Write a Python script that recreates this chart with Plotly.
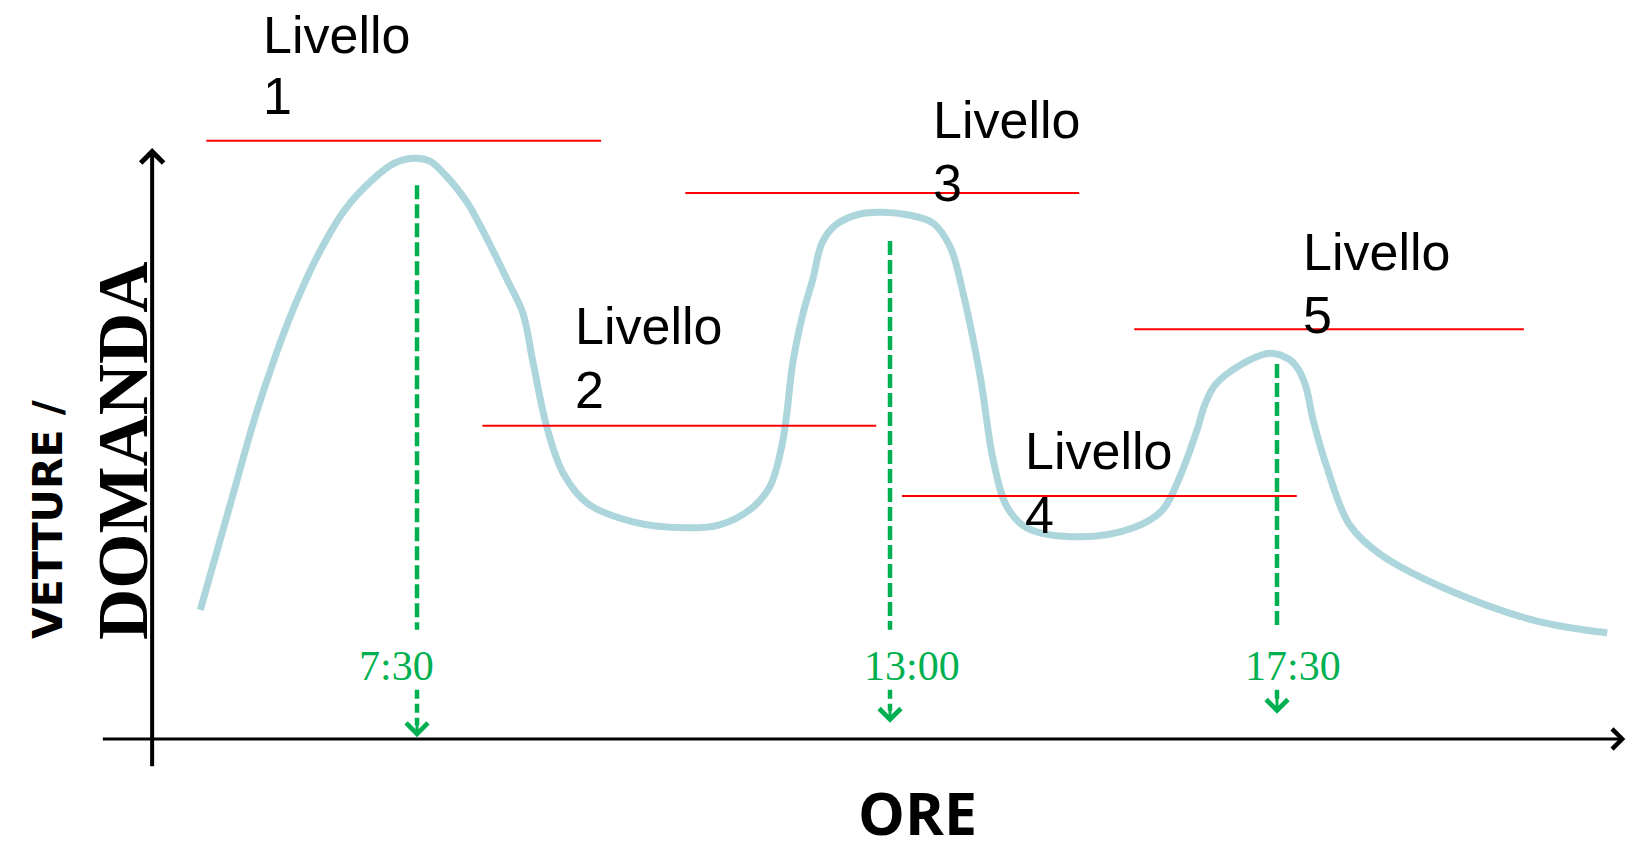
import plotly.graph_objects as go

# ---------------- data ----------------
# demand curve: hour of day vs demand (arbitrary units)
hours = [4.98, 5.33, 5.62, 5.85, 6.08, 6.35, 6.66, 6.98, 7.24, 7.48, 7.65, 7.83,
         8.08, 8.20, 8.38, 8.55, 8.73, 8.85, 9.01, 9.20, 9.48, 10.01, 10.64, 11.02,
         11.37, 11.60, 11.74, 11.80, 11.87, 11.99, 12.10, 12.21, 12.36, 12.65, 12.92,
         13.23, 13.50, 13.70, 13.85, 14.05, 14.20, 14.36, 14.59, 15.21, 15.83, 16.17,
         16.37, 16.57, 16.66, 16.78, 17.07, 17.42, 17.65, 17.73, 17.83, 17.92, 18.08,
         18.34, 18.71, 19.55, 20.51, 21.34]
demand = [21.5, 39.2, 53.8, 63.7, 72.3, 80.7, 88.2, 93.2, 96.0, 96.8, 96.3, 94.0,
          89.5, 86.5, 81.5, 76.5, 71.0, 62.7, 52.0, 44.3, 39.3, 36.2, 35.2, 35.7,
          38.2, 42.0, 48.7, 54.3, 62.7, 71.0, 76.5, 82.7, 85.6, 87.5, 87.8,
          87.3, 86.0, 82.0, 74.3, 60.3, 46.5, 38.7, 35.2, 33.7, 35.2, 38.2,
          43.7, 51.5, 55.7, 59.0, 62.3, 64.3, 63.2, 62.0, 59.0, 53.2, 45.3,
          35.8, 30.7, 24.5, 19.7, 17.7]

# service levels (horizontal red lines)
level_names = ["1", "2", "3", "4", "5"]
level_values = [99.7, 52.2, 91.0, 40.5, 68.3]
level_start = [5.05, 8.26, 10.62, 13.14, 15.84]
level_end = [9.64, 12.84, 15.20, 17.73, 20.37]

# peak times
peak_times = [7.5, 13.0, 17.5]
peak_labels = ["7:30", "13:00", "17:30"]
guide_top = [92.3, 83.0, 62.5]
guide_bottom = 18.2
arrow_tip = [0.3, 2.7, 4.2]

x_title = "ORE"
y_title_1 = "VETTURE /"
y_title_2 = "DOMANDA"

# ---------------- layout constants ----------------
X_RANGE = [2.651, 21.593]
Y_RANGE = [-19.0, 123.17]
AXIS_X0 = 4.42          # position of vertical axis (hours)
X_AXIS_START = 3.83
X_AXIS_END = 21.55
Y_AXIS_BOTTOM = -4.8
Y_AXIS_TOP = 98.5

# label anchor positions (left x, centre y of "Livello", centre y of number)
LABEL_POS = [(5.69, 117.3, 107.2), (9.31, 68.8, 58.2), (13.48, 103.2, 92.7),
             (14.55, 48.0, 37.3), (17.78, 81.2, 70.7)]
TIME_LABEL_Y = 12.2
TIME_LABEL_SHIFT = [-21, 22, 16]

CURVE_COLOR = "#acd6db"
GREEN = "#00b050"
RED = "#ff0000"

fig = go.Figure()

# demand curve
fig.add_trace(go.Scatter(x=hours, y=demand, mode="lines",
                         line=dict(color=CURVE_COLOR, width=7, shape="spline", smoothing=1.0),
                         hoverinfo="skip"))

# green dashed guides
for t, top, tip in zip(peak_times, guide_top, arrow_tip):
    fig.add_trace(go.Scatter(x=[t, t], y=[top, guide_bottom], mode="lines",
                             line=dict(color=GREEN, width=4.5, dash="14px,5px"),
                             hoverinfo="skip"))
    fig.add_trace(go.Scatter(x=[t, t], y=[8.2, tip + 2.0], mode="lines",
                             line=dict(color=GREEN, width=4.5, dash="9px,5px"),
                             hoverinfo="skip"))
    fig.add_annotation(x=t, y=tip, ax=t, ay=tip + 3.0, xref="x", yref="y",
                       axref="x", ayref="y", text="", showarrow=True,
                       arrowhead=4, arrowwidth=3, arrowsize=1.4,
                       arrowcolor=GREEN, standoff=0)

# red level lines
for v, s, e in zip(level_values, level_start, level_end):
    fig.add_trace(go.Scatter(x=[s, e], y=[v, v], mode="lines",
                             line=dict(color=RED, width=2), hoverinfo="skip"))

# level labels
for name, (lx, ly1, ly2) in zip(level_names, LABEL_POS):
    fig.add_annotation(x=lx, y=ly1, text="Livello", showarrow=False,
                       xanchor="left", yanchor="middle",
                       font=dict(family="Liberation Sans, Arial", size=52, color="black"))
    fig.add_annotation(x=lx, y=ly2, text=name, showarrow=False,
                       xanchor="left", yanchor="middle",
                       font=dict(family="Liberation Sans, Arial", size=52, color="black"))

# time labels
for t, lab, sh in zip(peak_times, peak_labels, TIME_LABEL_SHIFT):
    fig.add_annotation(x=t, y=TIME_LABEL_Y, text=lab, showarrow=False, xshift=sh,
                       xanchor="center", yanchor="middle",
                       font=dict(family="Liberation Serif, Times New Roman", size=42, color=GREEN))

# axes drawn as arrows
fig.add_annotation(x=X_AXIS_END, y=0, ax=X_AXIS_START, ay=0, xref="x", yref="y",
                   axref="x", ayref="y", text="", showarrow=True, arrowhead=4,
                   arrowwidth=3, arrowsize=1.3, arrowcolor="black", standoff=0)
fig.add_annotation(x=AXIS_X0, y=Y_AXIS_TOP, ax=AXIS_X0, ay=Y_AXIS_BOTTOM, xref="x", yref="y",
                   axref="x", ayref="y", text="", showarrow=True, arrowhead=4,
                   arrowwidth=4, arrowsize=1.1, arrowcolor="black", standoff=0)

# axis titles
fig.add_annotation(x=917 / 1629, y=1 - 812 / 853, xref="paper", yref="paper",
                   text=x_title, showarrow=False, xanchor="center", yanchor="middle",
                   font=dict(family="Open Sans", size=59, color="black", weight="bold"))
fig.add_annotation(x=48 / 1629, y=1 - 520 / 853, xref="paper", yref="paper",
                   text=y_title_1, showarrow=False, textangle=-90,
                   xanchor="center", yanchor="middle",
                   font=dict(family="DejaVu Sans", size=41, color="black", weight="bold"))
fig.add_annotation(x=123 / 1629, y=1 - 451 / 853, xref="paper", yref="paper",
                   text=y_title_2, showarrow=False, textangle=-90,
                   xanchor="center", yanchor="middle",
                   font=dict(family="Liberation Serif, Times New Roman", size=71,
                             color="black", weight="bold"))

fig.update_layout(width=1629, height=853, margin=dict(l=0, r=0, t=0, b=0),
                  paper_bgcolor="white", plot_bgcolor="white", showlegend=False,
                  xaxis=dict(range=X_RANGE, visible=False, fixedrange=True),
                  yaxis=dict(range=Y_RANGE, visible=False, fixedrange=True))

fig.write_html("out.html", config={"displayModeBar": False},
               post_script="document.body.style.margin='0px';document.body.style.overflow='hidden';")
